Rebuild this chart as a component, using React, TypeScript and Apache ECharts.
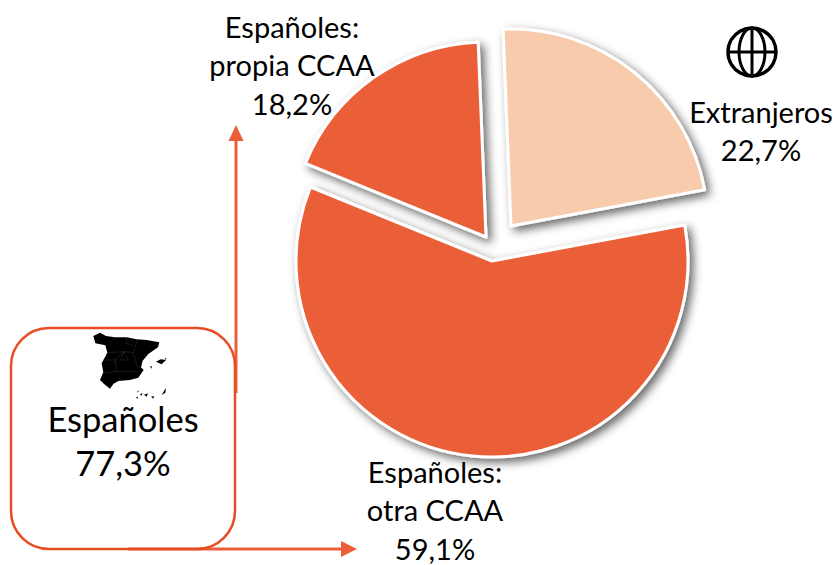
import React, { useEffect, useRef } from "react";
import * as echarts from "echarts";

const categories = ["Extranjeros", "Españoles: otra CCAA", "Españoles: propia CCAA"];
const shares = [22.7, 59.1, 18.2];
const total = 77.3;
const sliceColors = ["#F7CBAC", "#EB5E38", "#EB5E38"];
const FONT = "Lato, Carlito, 'Open Sans', sans-serif";

const pct = (v: number) => v.toFixed(1).replace(".", ",") + "%";

// slice index -> centre / radius
const centers: [number, number][] = [[511, 226], [492, 261], [486, 237]];
const radii = [197, 196, 195];

const mapPts = (pts: number[][]) => pts.map(([x, y]) => [x / 3, y / 3 + 310]);

const spain = mapPts([[280, 78], [300, 68], [318, 78], [345, 82], [380, 82], [410, 88], [440, 90], [478, 97], [474, 112], [445, 132], [428, 152], [423, 172], [431, 180], [415, 203], [390, 210], [355, 213], [340, 222], [330, 236], [312, 222], [300, 210], [310, 187], [305, 160], [322, 128], [316, 106], [286, 100]]);
const islands = [
  [[468, 155], [482, 148], [498, 150], [485, 163]],
  [[450, 170], [456, 168], [454, 176]],
  [[494, 144], [500, 146], [496, 149]],
  [[485, 255], [498, 233], [496, 248]],
  [[453, 260], [462, 258], [460, 266]],
  [[432, 254], [444, 250], [440, 260]],
  [[420, 252], [428, 250], [424, 258]],
  [[408, 262], [414, 260], [412, 267]],
  [[412, 242], [416, 242], [414, 248]],
].map(mapPts);
const borders = [
  [[322, 128], [372, 125], [400, 128], [412, 88]],
  [[372, 125], [345, 150], [310, 150]],
  [[345, 150], [350, 185], [306, 188]],
  [[350, 185], [415, 185]],
  [[400, 128], [412, 170], [423, 172]],
  [[372, 125], [362, 150], [385, 150], [372, 125]],
  [[380, 82], [378, 100], [400, 108]],
].map(mapPts);

function App() {
  const ref = useRef<HTMLDivElement>(null);
  useEffect(() => {
    document.body.style.margin = "0";
    const chart = echarts.init(ref.current!, null, { renderer: "svg" });
    const series = [1, 2, 0].map((idx) => ({
      type: "pie",
      name: categories[idx],
      center: centers[idx],
      radius: [0, radii[idx]],
      startAngle: 92.3,
      clockwise: true,
      silent: true,
      label: { show: false },
      labelLine: { show: false },
      data: categories.map((c, i) => ({
        name: c,
        value: shares[i],
        itemStyle:
          i === idx
            ? {
                color: sliceColors[i],
                borderColor: "#FFFFFF",
                borderWidth: 3,
                shadowBlur: 10,
                shadowOffsetX: 4,
                shadowOffsetY: 4,
                shadowColor: "rgba(0,0,0,0.6)",
              }
            : { color: "transparent", borderWidth: 0, opacity: 0 },
      })),
    }));
    const line = "#EB5E38";
    const label = (text: string, x: number, y: number, size = 29, lh = 38.5) => ({
      type: "text",
      x,
      y,
      z: 20,
      style: { text, fill: "#000", font: `${size}px ${FONT}`, align: "center", verticalAlign: "top", lineHeight: lh },
    });
    chart.setOption({
      animation: false,
      backgroundColor: "#FFFFFF",
      series,
      graphic: [
        // connector lines + arrowheads
        { type: "line", z: 5, shape: { x1: 236, y1: 393, x2: 236, y2: 138 }, style: { stroke: line, lineWidth: 3 } },
        { type: "polygon", z: 5, shape: { points: [[236, 125], [243.5, 141], [228.5, 141]] }, style: { fill: line } },
        { type: "line", z: 5, shape: { x1: 128, y1: 549, x2: 343, y2: 549 }, style: { stroke: line, lineWidth: 3 } },
        { type: "polygon", z: 5, shape: { points: [[357, 549], [341, 541], [341, 557]] }, style: { fill: line } },
        // box
        { type: "rect", z: 6, shape: { x: 11, y: 328, width: 224, height: 221, r: 38 }, style: { fill: "none", stroke: "#E84C22", lineWidth: 2.5 } },
        // map of Spain
        { type: "polygon", z: 7, shape: { points: spain }, style: { fill: "#000" } },
        ...islands.map((points) => ({ type: "polygon", z: 7, shape: { points }, style: { fill: "#000" } })),
        ...borders.map((points) => ({ type: "polyline", z: 8, shape: { points }, style: { fill: "none", stroke: "#444", lineWidth: 0.4 } })),
        // globe icon
        { type: "circle", z: 7, shape: { cx: 752, cy: 52, r: 24 }, style: { fill: "none", stroke: "#000", lineWidth: 3.5 } },
        { type: "ellipse", z: 7, shape: { cx: 752, cy: 52, rx: 13, ry: 24 }, style: { fill: "none", stroke: "#000", lineWidth: 3 } },
        { type: "line", z: 7, shape: { x1: 752, y1: 28, x2: 752, y2: 76 }, style: { stroke: "#000", lineWidth: 3 } },
        { type: "line", z: 7, shape: { x1: 728, y1: 52, x2: 776, y2: 52 }, style: { stroke: "#000", lineWidth: 3 } },
        // labels
        label(`Españoles:\npropia CCAA\n${pct(shares[2])}`, 292, 7),
        label(`Extranjeros\n${pct(shares[0])}`, 761, 92),
        label(`Españoles:\notra CCAA\n${pct(shares[1])}`, 435, 452),
        label(`Españoles\n${pct(total)}`, 123, 396, 34.5, 44),
      ],
    });
    return () => chart.dispose();
  }, []);
  return <div ref={ref} style={{ width: 840, height: 565 }} />;
}

export default App;
